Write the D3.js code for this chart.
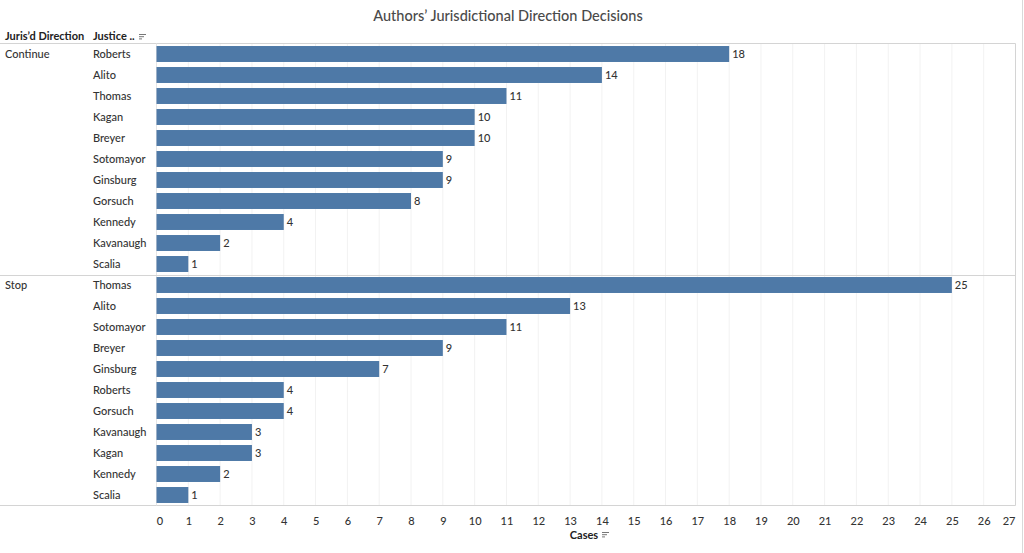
<!DOCTYPE html>
<html>
<head>
<meta charset="utf-8">
<script src="https://cdn.jsdelivr.net/npm/d3@7"></script>
<style>
  body { margin: 0; background: #fff; }
  text { font-family: Lato, "Open Sans", sans-serif; }
</style>
</head>
<body>
<div id="graf"></div>
<script>
// Datos
const groups = ["Continue", "Stop"];
const continueJustices = ["Roberts", "Alito", "Thomas", "Kagan", "Breyer", "Sotomayor", "Ginsburg", "Gorsuch", "Kennedy", "Kavanaugh", "Scalia"];
const continueCases = [18, 14, 11, 10, 10, 9, 9, 8, 4, 2, 1];
const stopJustices = ["Thomas", "Alito", "Sotomayor", "Breyer", "Ginsburg", "Roberts", "Gorsuch", "Kavanaugh", "Kagan", "Kennedy", "Scalia"];
const stopCases = [25, 13, 11, 9, 7, 4, 4, 3, 3, 2, 1];
const xTicks = d3.range(0, 28);

const rows = [
  ...continueJustices.map((j, i) => ({ group: "Continue", justice: j, cases: continueCases[i], first: i === 0 })),
  ...stopJustices.map((j, i) => ({ group: "Stop", justice: j, cases: stopCases[i], first: i === 0 })),
];

// Dimensiones
const anchoTotal = 1024;
const altoTotal = 553;
const plot = { left: 156.5, right: 1015.5, top: 43.5, bottom: 505.5 };

const svg = d3.select("#graf")
  .append("svg")
  .attr("width", anchoTotal)
  .attr("height", altoTotal);

const x = d3.scaleLinear().domain([0, 27]).range([plot.left, plot.right]);
const y = d3.scaleBand()
  .domain(rows.map((d) => d.group + "|" + d.justice))
  .range([plot.top, plot.bottom])
  .paddingInner(0.24)
  .paddingOuter(0.12);

// Titulo
svg.append("text")
  .attr("x", 508)
  .attr("y", 21)
  .attr("text-anchor", "middle")
  .style("font-size", "14.5px")
  .style("font-weight", 500)
  .style("fill", "#4a4a4a")
  .text("Authors\u2019 Jurisdictional Direction Decisions");

// Grid
svg.append("g")
  .selectAll("line")
  .data(xTicks.slice(1))
  .join("line")
  .attr("x1", (d) => x(d))
  .attr("x2", (d) => x(d))
  .attr("y1", plot.top)
  .attr("y2", plot.bottom)
  .attr("stroke", "#f2f2f2")
  .attr("stroke-width", 1);

// Bordes
svg.append("line")
  .attr("x1", 0).attr("x2", plot.right)
  .attr("y1", plot.top).attr("y2", plot.top)
  .attr("stroke", "#d4d4d4");
svg.append("line")
  .attr("x1", 0).attr("x2", plot.right)
  .attr("y1", plot.bottom).attr("y2", plot.bottom)
  .attr("stroke", "#d4d4d4");
svg.append("line")
  .attr("x1", plot.right).attr("x2", plot.right)
  .attr("y1", plot.top).attr("y2", plot.bottom)
  .attr("stroke", "#d4d4d4");
svg.append("line")
  .attr("x1", plot.left).attr("x2", plot.left)
  .attr("y1", plot.top).attr("y2", plot.bottom)
  .attr("stroke", "#e6e6e6");
svg.append("line")
  .attr("x1", 1022.5).attr("x2", 1022.5)
  .attr("y1", 0).attr("y2", altoTotal)
  .attr("stroke", "#d9d9d9");

// Separador entre grupos
const sepY = y("Stop|" + stopJustices[0]) - (y.step() - y.bandwidth()) / 2;
svg.append("line")
  .attr("x1", 0).attr("x2", plot.right)
  .attr("y1", Math.round(sepY) + 0.5).attr("y2", Math.round(sepY) + 0.5)
  .attr("stroke", "#d4d4d4");

// Barras
svg.append("g")
  .selectAll("rect")
  .data(rows)
  .join("rect")
  .attr("x", x(0))
  .attr("y", (d) => y(d.group + "|" + d.justice))
  .attr("width", (d) => x(d.cases) - x(0))
  .attr("height", y.bandwidth())
  .attr("fill", "#4e79a7");

// Etiquetas de valor
svg.append("g")
  .selectAll("text")
  .data(rows)
  .join("text")
  .attr("x", (d) => x(d.cases) + 3)
  .attr("y", (d) => y(d.group + "|" + d.justice) + y.bandwidth() / 2)
  .attr("dy", "0.35em")
  .style("font-size", "11px")
  .style("font-weight", 500)
  .style("fill", "#333")
  .text((d) => d.cases);

// Nombres
svg.append("g")
  .selectAll("text")
  .data(rows)
  .join("text")
  .attr("x", 93)
  .attr("y", (d) => y(d.group + "|" + d.justice) + y.bandwidth() / 2)
  .attr("dy", "0.35em")
  .style("font-size", "11px")
  .style("font-weight", 500)
  .style("fill", "#333")
  .text((d) => d.justice);

// Grupos
svg.append("g")
  .selectAll("text")
  .data(rows.filter((d) => d.first))
  .join("text")
  .attr("x", 5)
  .attr("y", (d) => y(d.group + "|" + d.justice) + y.bandwidth() / 2)
  .attr("dy", "0.35em")
  .style("font-size", "11px")
  .style("font-weight", 500)
  .style("fill", "#333")
  .text((d) => d.group);

// Encabezados
svg.append("text")
  .attr("x", 5).attr("y", 40)
  .style("font-size", "11px").style("font-weight", "bold").style("fill", "#222")
  .text("Juris\u2019d Direction");
svg.append("text")
  .attr("x", 93).attr("y", 40)
  .style("font-size", "11px").style("font-weight", "bold").style("fill", "#222")
  .text("Justice ..");

// Icono de orden
function sortIcon(cx, cy) {
  const g = svg.append("g").attr("transform", `translate(${cx},${cy})`);
  [7, 5, 3].forEach((w, i) => {
    g.append("line")
      .attr("x1", 0).attr("x2", w)
      .attr("y1", i * 2.2).attr("y2", i * 2.2)
      .attr("stroke", "#777").attr("stroke-width", 1);
  });
}
sortIcon(139, 34.5);

// Eje X
const xAxis = svg.append("g")
  .attr("transform", `translate(0, ${plot.bottom})`)
  .call(d3.axisBottom(x).tickValues(xTicks).tickSize(0).tickPadding(12));
xAxis.select(".domain").remove();
xAxis.selectAll("text")
  .style("font-family", "Lato, 'Open Sans', sans-serif")
  .style("font-size", "11px")
  .style("font-weight", 500)
  .style("fill", "#333")
  .attr("dx", (d) => (d === 0 ? 3 : d === 27 ? -7 : 0));

svg.append("text")
  .attr("x", 584).attr("y", 539)
  .attr("text-anchor", "middle")
  .style("font-size", "11px").style("font-weight", "bold").style("fill", "#222")
  .text("Cases");
sortIcon(602, 532.5);
</script>
</body>
</html>
